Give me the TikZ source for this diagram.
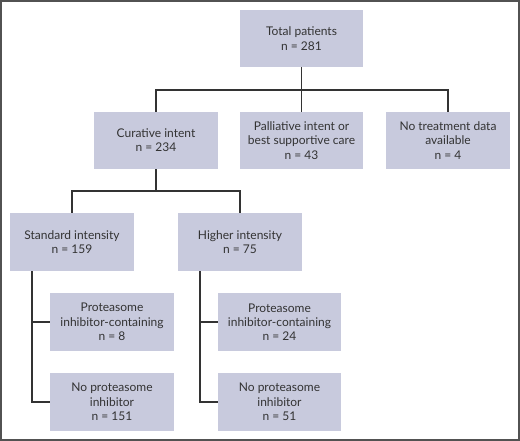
\documentclass[tikz,border=0pt]{standalone}
\usepackage{fontspec}
\setmainfont{Lato}
\definecolor{boxfill}{HTML}{C8CADD}
\definecolor{ink}{HTML}{333333}
\begin{document}
\begin{tikzpicture}[x=1pt,y=-1pt,
  box/.style={fill=boxfill,draw=none,text=ink,align=center,font=\fontsize{12}{14.3}\selectfont,inner sep=0pt},
  conn/.style={draw=ink,line width=1.8pt}]
\useasboundingbox (0,0) rectangle (520,441);
\draw[draw=ink!85,line width=2pt] (1,1) rectangle (519,440);
% boxes
\node[box,minimum width=123pt,minimum height=57pt] (tot) at (301.5,38.5) {Total patients\\n = 281};
\node[box,minimum width=124pt,minimum height=57pt] (cur) at (156,140.5) {Curative intent\\n = 234};
\node[box,minimum width=123pt,minimum height=57pt] (pal) at (301.5,140.5) {Palliative intent or\\best supportive care\\n = 43};
\node[box,minimum width=124pt,minimum height=57pt] (nod) at (448,140.5) {No treatment data\\available\\n = 4};
\node[box,minimum width=124pt,minimum height=58pt] (std) at (72,242) {Standard intensity\\n = 159};
\node[box,minimum width=124pt,minimum height=58pt] (hig) at (240,242) {Higher intensity\\n = 75};
\node[box,minimum width=124pt,minimum height=58pt] (spi) at (112,322) {Proteasome\\inhibitor-containing\\n = 8};
\node[box,minimum width=124pt,minimum height=58pt] (snp) at (112,402) {No proteasome\\inhibitor\\n = 151};
\node[box,minimum width=123pt,minimum height=58pt] (hpi) at (279.5,322) {Proteasome\\inhibitor-containing\\n = 24};
\node[box,minimum width=123pt,minimum height=58pt] (hnp) at (279.5,402) {No proteasome\\inhibitor\\n = 51};
% connectors
\coordinate (j1) at (301.5,90);
\draw[conn] (tot.south) -- (j1);
\draw[conn] (cur.north) -- (cur.north |- j1) -- (nod.north |- j1) -- (nod.north);
\draw[conn] (j1) -- (pal.north);
\coordinate (j2) at (156,191);
\draw[conn] (cur.south) -- (j2);
\draw[conn] (std.north) -- (std.north |- j2) -- (hig.north |- j2) -- (hig.north);
\coordinate (s1) at (32,0);
\coordinate (h1) at (200,0);
\draw[conn] (s1 |- std.south) -- (s1 |- snp.west) -- (snp.west);
\draw[conn] (s1 |- spi.west) -- (spi.west);
\draw[conn] (h1 |- hig.south) -- (h1 |- hnp.west) -- (hnp.west);
\draw[conn] (h1 |- hpi.west) -- (hpi.west);
\end{tikzpicture}
\end{document}
